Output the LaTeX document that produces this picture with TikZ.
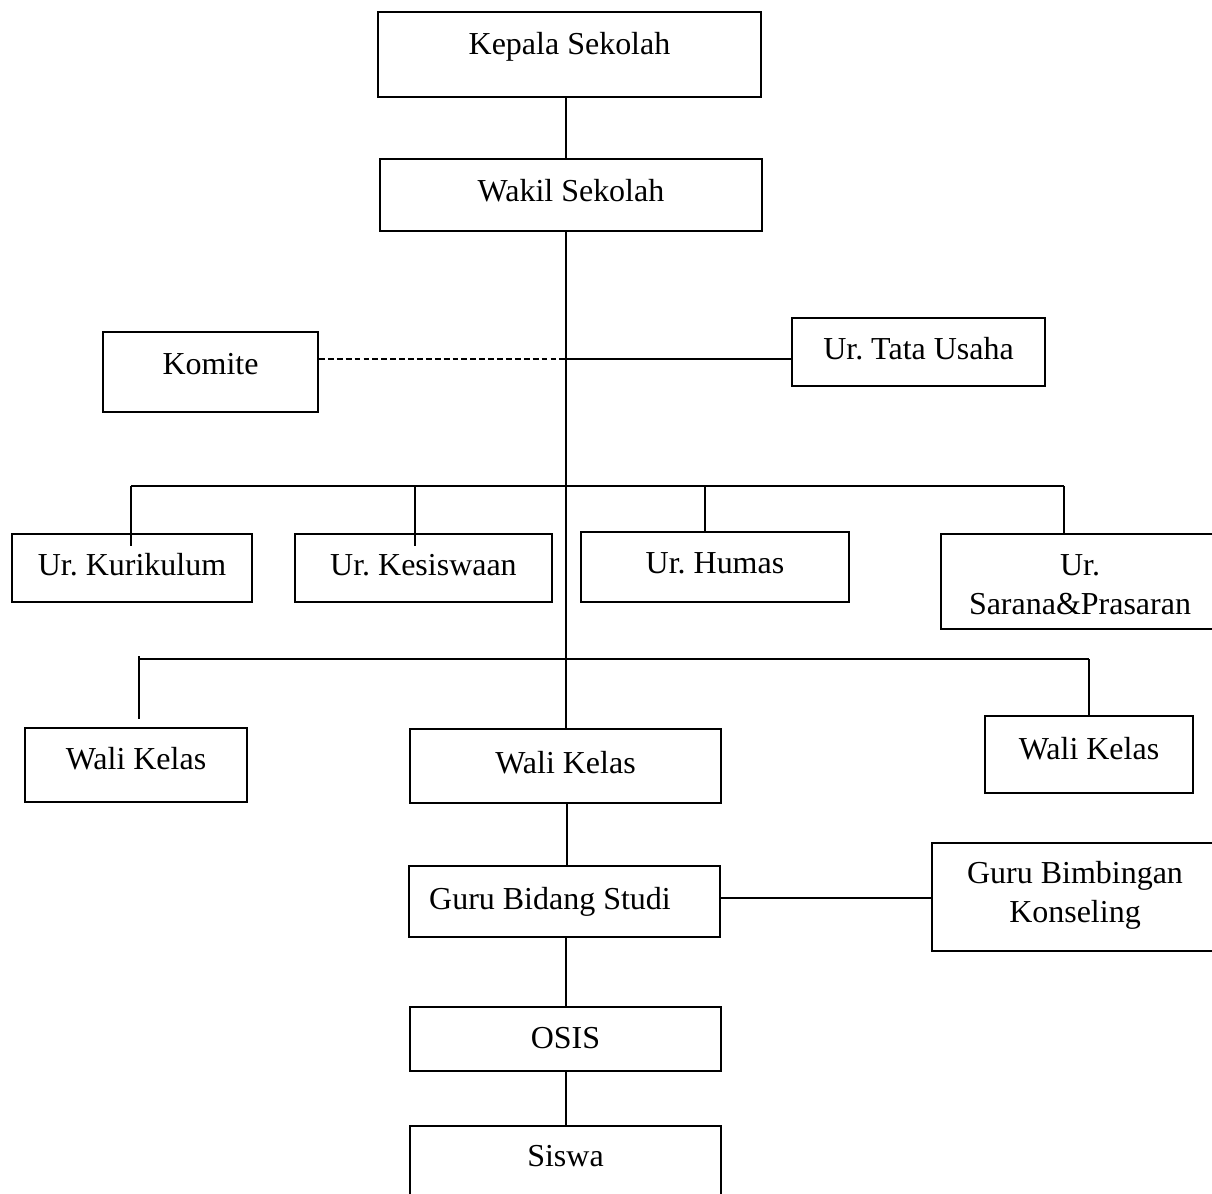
\documentclass[tikz,border=0pt]{standalone}
\usepackage{fontspec}
\setmainfont{Liberation Serif}
\usetikzlibrary{calc,fit}
\frenchspacing
\begin{document}
\begin{tikzpicture}[x=0.03cm,y=-0.03cm,
  box/.style={draw=black, line width=1.7pt, rectangle, inner sep=0pt},
  lbl/.style={font=\fontsize{27.3}{33.3}\selectfont, inner sep=0pt, align=center},
  conn/.style={draw=black, line width=1.5pt},
  dashconn/.style={draw=black, line width=1.5pt, dash pattern=on 5pt off 2.6pt},
]
\useasboundingbox (0,0) rectangle (1212,1193);
\fill[white] (0,0) rectangle (1212,1193);

% boxes
\node[box, fit={(378,12) (761,97)}] (kep) {};
\node[box, fit={(380,159) (762,231)}] (wak) {};
\node[box, fit={(103,332) (318,412)}] (kom) {};
\node[box, fit={(792,318) (1045,386)}] (tata) {};
\node[box, fit={(12,534) (252,602)}] (kur) {};
\node[box, fit={(295,534) (552,602)}] (kes) {};
\node[box, fit={(581,532) (849,602)}] (hum) {};
\node[box, fit={(941,534) (1220,629)}] (sar) {};
\node[box, fit={(25,728) (247,802)}] (wl) {};
\node[box, fit={(410,729) (721,803)}] (wc) {};
\node[box, fit={(985,716) (1193,793)}] (wr) {};
\node[box, fit={(409,866) (720,937)}] (gbs) {};
\node[box, fit={(932,843) (1218,951)}] (gbk) {};
\node[box, fit={(410,1007) (721,1071)}] (osis) {};
\node[box, fit={(410,1126) (721,1215)}] (sis) {};

% labels
\node[lbl, anchor=base] (kep-t) at (569.5,54) {Kepala Sekolah};
\node[lbl, anchor=base] (wak-t) at (571,201) {Wakil Sekolah};
\node[lbl, anchor=base] (kom-t) at (210.5,374) {Komite};
\node[lbl, anchor=base] (tata-t) at (918.5,359) {Ur. Tata Usaha};
\node[lbl, anchor=base] (kur-t) at (132,575) {Ur. Kurikulum};
\node[lbl, anchor=base] (kes-t) at (423.5,575) {Ur. Kesiswaan};
\node[lbl, anchor=base] (hum-t) at (715,573) {Ur. Humas};
\node[lbl] (sar-t) at (1080,585) {Ur.\\Sarana\&Prasaran};
\node[lbl, anchor=base] (wl-t) at (136,769) {Wali Kelas};
\node[lbl, anchor=base] (wc-t) at (565.5,773) {Wali Kelas};
\node[lbl, anchor=base] (wr-t) at (1089,759) {Wali Kelas};
\node[lbl, anchor=base] (gbs-t) at (550,909) {Guru Bidang Studi};
\node[lbl] (gbk-t) at (1075,895) {Guru Bimbingan\\Konseling};
\node[lbl, anchor=base] (osis-t) at (565.5,1048) {OSIS};
\node[lbl, anchor=base] (sis-t) at (565.5,1166) {Siswa};

% helper coordinates
\coordinate (t) at (566,0);
\coordinate (t2) at (567,0);
\coordinate (j1) at (566,359);
\coordinate (dx1) at (131,486);
\coordinate (dx2) at (415,486);
\coordinate (dx3) at (705,486);
\coordinate (dx4) at (1064,486);
\coordinate (ex1) at (139,659);
\coordinate (ex2) at (1089,659);
\coordinate (h) at (0,898);

% connectors
\draw[conn] (kep.south -| t) -- (wak.north -| t);
\draw[conn] (wak.south -| t) -- (wc.north -| t);
\draw[dashconn] (kom.east |- j1) -- (j1);
\draw[conn] (j1) -- (tata.west |- j1);

\draw[conn] (dx1) -- (dx4);
\draw[conn] (dx1) -- ($(kur.north -| dx1)+(0,13)$);
\draw[conn] (dx2) -- ($(kes.north -| dx2)+(0,13)$);
\draw[conn] (dx3) -- (hum.north -| dx3);
\draw[conn] (dx4) -- (sar.north -| dx4);

\draw[conn] (ex1) -- (ex2);
\draw[conn] ($(ex1)+(0,-3)$) -- ($(wl.north -| ex1)+(0,-8)$);
\draw[conn] (ex2) -- (wr.north -| ex2);

\draw[conn] (wc.south -| t2) -- (gbs.north -| t2);
\draw[conn] (gbs.east |- h) -- (gbk.west |- h);
\draw[conn] (gbs.south -| t) -- (osis.north -| t);
\draw[conn] (osis.south -| t) -- (sis.north -| t);
\end{tikzpicture}
\end{document}
